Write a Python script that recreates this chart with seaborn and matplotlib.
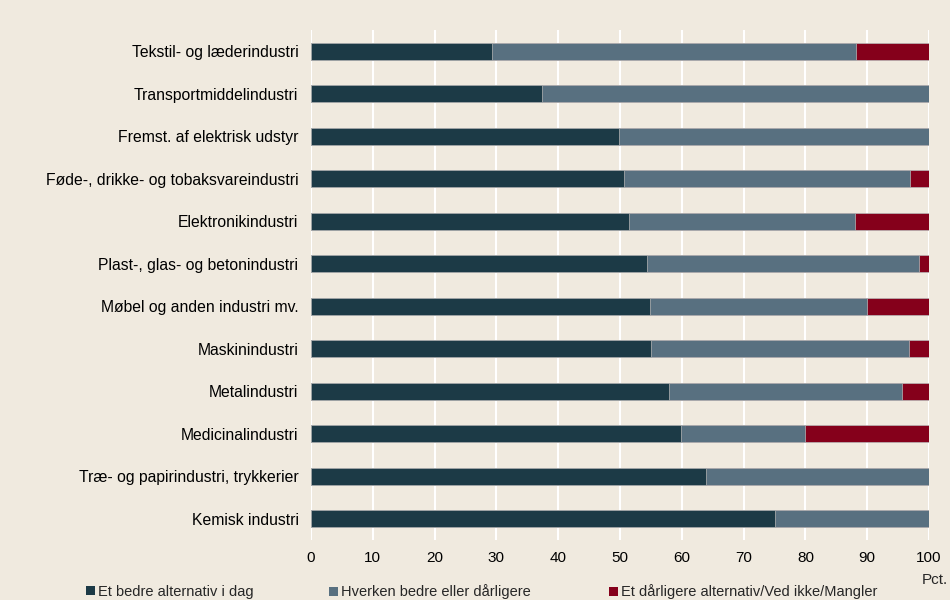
"""Stacked horizontal bars: assessment of alternatives by industry."""

import numpy as np
import pandas as pd
import matplotlib
matplotlib.use('Agg')
import matplotlib.pyplot as plt
from matplotlib.patches import Patch
import seaborn as sns

# Data (pct.)
industries = [
    'Tekstil- og læderindustri',
    'Transportmiddelindustri',
    'Fremst. af elektrisk udstyr',
    'Føde-, drikke- og tobaksvareindustri',
    'Elektronikindustri',
    'Plast-, glas- og betonindustri',
    'Møbel og anden industri mv.',
    'Maskinindustri',
    'Metalindustri',
    'Medicinalindustri',
    'Træ- og papirindustri, trykkerier',
    'Kemisk industri',
]
better = [29.3, 37.4, 49.8, 50.6, 51.5, 54.3, 54.9, 55.0, 58.0, 59.9, 63.9, 75.0]
neither = [58.9, 62.6, 50.2, 46.3, 36.5, 44.1, 35.1, 41.8, 37.6, 20.1, 36.1, 25.0]
worse = [11.8, 0.0, 0.0, 3.1, 12.0, 1.6, 10.0, 3.2, 4.4, 20.0, 0.0, 0.0]

series_names = [
    'Et bedre alternativ i dag',
    'Hverken bedre eller dårligere',
    'Et dårligere alternativ/Ved ikke/Mangler',
]
colors = ['#1c3a46', '#587080', '#85001b']
bg = '#f0eadf'

df = pd.DataFrame({'industry': industries, 'better': better,
                   'neither': neither, 'worse': worse})
df['c1'] = df['better']
df['c2'] = df['better'] + df['neither']
df['c3'] = df['c2'] + df['worse']

sns.set_style('white')
plt.rcParams['font.family'] = ['Liberation Sans', 'DejaVu Sans']

fig = plt.figure(figsize=(9.5, 6), dpi=100, facecolor=bg)
ax = fig.add_axes([311 / 950, 60 / 600, 618 / 950, 510 / 600])
ax.set_facecolor(bg)

# Draw cumulative totals back to front so each segment shows
for col, color in zip(['c3', 'c2', 'c1'], colors[::-1]):
    sns.barplot(data=df, x=col, y='industry', orient='h', color=color,
                width=0.4, edgecolor='#b8b8b8', linewidth=0.5,
                saturation=1, ax=ax, zorder=2)

ax.set_xlim(0, 100)
ax.set_ylim(11.5, -0.5)
ax.set_xticks(np.arange(0, 101, 10))
ax.grid(axis='x', color='white', linewidth=1.5, zorder=0)
ax.set_axisbelow(True)
for s in ax.spines.values():
    s.set_visible(False)
ax.tick_params(axis='both', length=0, colors='black')
ax.tick_params(axis='y', pad=9, labelsize=11.3)
ax.tick_params(axis='x', pad=8, labelsize=11)
ax.set_xlabel('')
ax.set_ylabel('')

fig.text(948 / 950, 1 - 580 / 600, 'Pct.', ha='right', va='center',
         fontsize=11)

# Legend entries along the bottom
legend_x = [86 / 950, 329 / 950, 609 / 950]
for name, color, lx in zip(series_names, colors, legend_x):
    fig.legend(handles=[Patch(facecolor=color, edgecolor='none', label=name)],
               loc='center left', bbox_to_anchor=(lx, 1 - 592 / 600),
               frameon=False, fontsize=10.5, handlelength=0.6,
               handleheight=0.6, handletextpad=0.2, borderaxespad=0,
               borderpad=0)

fig.savefig('out.png', dpi=100, facecolor=bg)
